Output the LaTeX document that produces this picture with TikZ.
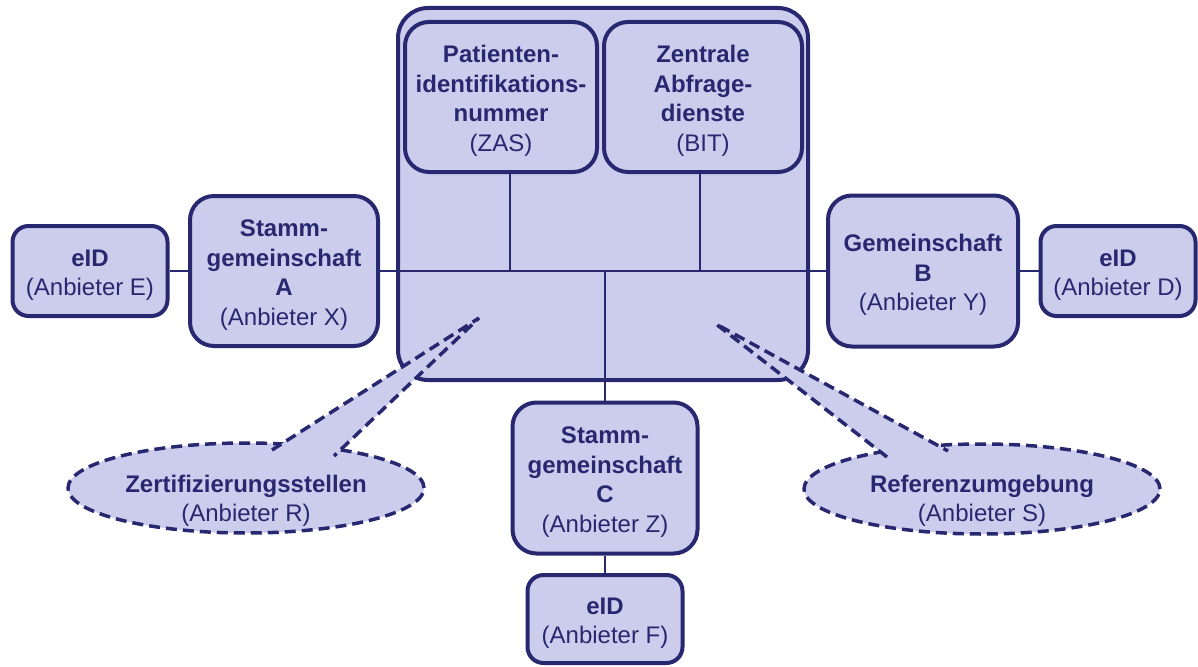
\documentclass[tikz,border=0pt]{standalone}
\usepackage{fontspec}
\setmainfont{Liberation Sans}
\usetikzlibrary{shapes.geometric}
\definecolor{boxfill}{RGB}{204,205,237}
\definecolor{navy}{RGB}{40,40,112}
\newcommand\boxup{\rule{0pt}{25pt}}
\tikzset{
  rbox/.style={draw=navy, fill=boxfill, line width=4pt, rounded corners=#1,
    text=navy, align=center, inner sep=0pt,
    font=\fontsize{24}{29.5}\selectfont},
  rbox/.default=24pt,
  link/.style={draw=navy, line width=2pt},
  callout/.style={ellipse, draw=navy, fill=boxfill, line width=3.5pt,
    dash pattern=on 11pt off 6pt, inner sep=0pt,
    minimum width=356pt, minimum height=90pt},
  calltext/.style={text=navy, align=center, inner sep=0pt,
    font=\fontsize{24}{29.5}\selectfont},
  tailfill/.style={fill=boxfill, draw=none},
  tailline/.style={draw=navy, line width=3.5pt, dash pattern=on 11pt off 6pt},
}
\begin{document}
\begin{tikzpicture}[x=1pt,y=-1pt]
\useasboundingbox (0,0) rectangle (1198,666);
% central box
\node[rbox=30pt, minimum width=410pt, minimum height=372pt] (central) at (603,194) {};
% connectors
\node[rbox, minimum width=188pt, minimum height=150pt] (stA) at (284,271)
  {\boxup\textbf{Stamm-}\\\textbf{gemeinschaft}\\\textbf{A}\\(Anbieter X)};
\node[rbox, minimum width=190pt, minimum height=151pt] (gemB) at (923,271)
  {\boxup\textbf{Gemeinschaft}\\\textbf{B}\\(Anbieter Y)};
\draw[link] (stA.east) -- (gemB.west);
\node[rbox, minimum width=192pt, minimum height=150pt] (zas) at (501,97)
  {\boxup\textbf{Patienten-}\\\textbf{identifikations-}\\\textbf{nummer}\\(ZAS)};
\node[rbox, minimum width=198pt, minimum height=150pt] (bit) at (703,97)
  {\boxup\textbf{Zentrale}\\\textbf{Abfrage-}\\\textbf{dienste}\\(BIT)};
\coordinate (j1) at (510,271);
\coordinate (j2) at (700,271);
\coordinate (j3) at (605,271);
\draw[link] (zas.south -| j1) -- (j1);
\draw[link] (bit.south -| j2) -- (j2);
\node[rbox, minimum width=185pt, minimum height=151pt] (stC) at (605,478)
  {\boxup\textbf{Stamm-}\\\textbf{gemeinschaft}\\\textbf{C}\\(Anbieter Z)};
\draw[link] (j3) -- (stC.north);
\node[rbox=16pt, minimum width=155pt, minimum height=90pt] (eidE) at (90,271)
  {\boxup\textbf{eID}\\(Anbieter E)};
\node[rbox=16pt, minimum width=155pt, minimum height=90pt] (eidD) at (1118,271)
  {\boxup\textbf{eID}\\(Anbieter D)};
\node[rbox=16pt, minimum width=155pt, minimum height=88pt] (eidF) at (605,619)
  {\boxup\textbf{eID}\\(Anbieter F)};
\draw[link] (eidE.east) -- (stA.west);
\draw[link] (gemB.east) -- (eidD.west);
\draw[link] (stC.south) -- (eidF.north);
% callouts
\node[callout] (zert) at (246,488) {};
\coordinate (zt) at (479,318);
\coordinate (zb1) at (272,450);
\coordinate (zb2) at (334,456);
\fill[tailfill] (zb1) -- (zt) -- (zb2) -- ([yshift=-8pt]zb2) -- ([yshift=-8pt]zb1) -- cycle;
\draw[tailline] (zb1) -- (zt) -- (zb2);
\node[calltext] (zertT) at (246,501) {\textbf{Zertifizierungsstellen}\\(Anbieter R)};
\node[callout] (ref) at (982,489) {};
\coordinate (rt) at (716,324);
\coordinate (rb1) at (887,457);
\coordinate (rb2) at (948,451);
\fill[tailfill] (rb1) -- (rt) -- (rb2) -- ([yshift=-8pt]rb2) -- ([yshift=-8pt]rb1) -- cycle;
\draw[tailline] (rb1) -- (rt) -- (rb2);
\node[calltext] (refT) at (982,501) {\textbf{Referenzumgebung}\\(Anbieter S)};
\end{tikzpicture}
\end{document}
